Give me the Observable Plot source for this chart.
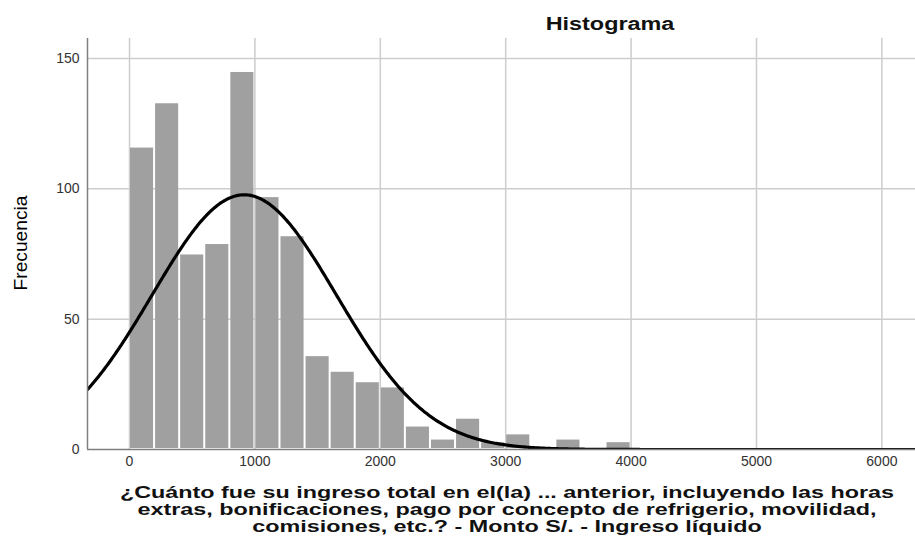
<!DOCTYPE html>
<html><head><meta charset="utf-8">
<script src="https://cdn.jsdelivr.net/npm/d3@7"></script>
<script src="https://cdn.jsdelivr.net/npm/@observablehq/plot@0.6"></script>
<style>
body{margin:0;background:#fff;font-family:"Liberation Sans",Arial,sans-serif;}
#wrap{position:relative;width:915px;height:540px;overflow:hidden;background:#fff;}
#wrap svg{position:absolute;left:0;top:0;}
#title{position:absolute;top:15px;left:510px;width:200px;text-align:center;font-weight:bold;font-size:18px;line-height:18px;color:#111;transform:scaleX(1.3);transform-origin:center;white-space:nowrap;}
#ylab{position:absolute;left:21px;top:243px;font-size:18px;line-height:18px;color:#000;white-space:nowrap;}
#xlab{position:absolute;top:484px;left:107px;width:800px;text-align:center;font-weight:bold;font-size:16px;line-height:17px;color:#111;transform-origin:center top;}
#xlab div{white-space:nowrap;height:17px;}
</style></head><body>
<div id="wrap">
  <div id="title"></div>
  <div id="ylab"></div>
  <div id="xlab"></div>
</div>
<script>
// ---- data ----
const binStarts = [0,200,400,600,800,1000,1200,1400,1600,1800,2000,2200,2400,2600,2800,3000,3200,3400,3600,3800];
const counts    = [116,133,75,79,145,97,82,36,30,26,24,9,4,12,3,6,0,4,0,3];
const binWidth = 200;
const xTicks = [0,1000,2000,3000,4000,5000,6000];
const yTicks = [0,50,100,150];
const yGrid = [50,100,150];
// fitted normal curve parameters (mean, standard deviation, N)
const normalMean = 915;
const normalSd = 735;
const normalN = 900;
const xDomain = [-335, 6268];
const yDomain = [0, 157.65];
const titleText = "Histograma";
const yLabel = "Frecuencia";
const xLabelLines = [
  "¿Cuánto fue su ingreso total en el(la) ... anterior, incluyendo las horas",
  "extras, bonificaciones, pago por concepto de refrigerio, movilidad,",
  "comisiones, etc.? - Monto S/. - Ingreso líquido"
];

// ---- build tables ----
const bins = binStarts.map((x0, i) => ({x0, x1: x0 + binWidth, count: counts[i]})).filter(d => d.count > 0);
const curve = d3.range(xDomain[0], xDomain[1] + 1, 10).map(x => ({
  x,
  y: normalN * binWidth * Math.exp(-((x - normalMean) ** 2) / (2 * normalSd ** 2)) / (normalSd * Math.sqrt(2 * Math.PI))
}));

const chart = Plot.plot({
  width: 915,
  height: 478,
  marginLeft: 87,
  marginRight: 0,
  marginTop: 38,
  marginBottom: 29,
  style: {fontFamily: "'Liberation Sans', Arial, sans-serif", color: "#333", background: "transparent"},
  x: {domain: xDomain},
  y: {domain: yDomain},
  marks: [
    Plot.gridX(xTicks, {stroke: "#cdcdcd", strokeOpacity: 1, strokeWidth: 1.5}),
    Plot.gridY(yGrid, {stroke: "#cdcdcd", strokeOpacity: 1, strokeWidth: 1.5}),
    Plot.rectY(bins, {x1: "x0", x2: "x1", y: "count", fill: "#a0a0a0", inset: 1}),
    Plot.line(curve, {x: "x", y: "y", stroke: "#000", strokeWidth: 3.2, clip: true}),
    Plot.ruleY([yDomain[0]], {stroke: "#808080", strokeWidth: 1.5}),
    Plot.ruleX([xDomain[0]], {y1: yDomain[0], y2: yDomain[1], stroke: "#808080", strokeWidth: 1.5}),
    Plot.axisX(xTicks, {tickSize: 0, tickPadding: 7, fontSize: 14, tickFormat: "d", label: null}),
    Plot.axisY(yTicks, {tickSize: 0, tickPadding: 8, fontSize: 14, tickFormat: "d", label: null})
  ]
});
const wrap = document.getElementById("wrap");
wrap.insertBefore(chart, wrap.firstChild);

document.getElementById("title").textContent = titleText;
const ylab = document.getElementById("ylab");
ylab.textContent = yLabel;
const yw = ylab.getBoundingClientRect().width;
ylab.style.transform = `translate(-50%,-50%) rotate(-90deg) scaleX(${95 / yw})`;
const xlab = document.getElementById("xlab");
let firstSpan = null;
xLabelLines.forEach(t => {
  const d = document.createElement("div");
  const sp = document.createElement("span");
  sp.textContent = t;
  d.appendChild(sp);
  xlab.appendChild(d);
  if (!firstSpan) firstSpan = sp;
});
// stretch caption horizontally like the reference (first line spans ~774px)
const w = firstSpan.getBoundingClientRect().width;
xlab.style.transform = `scaleX(${774 / w})`;
</script>
</body></html>
